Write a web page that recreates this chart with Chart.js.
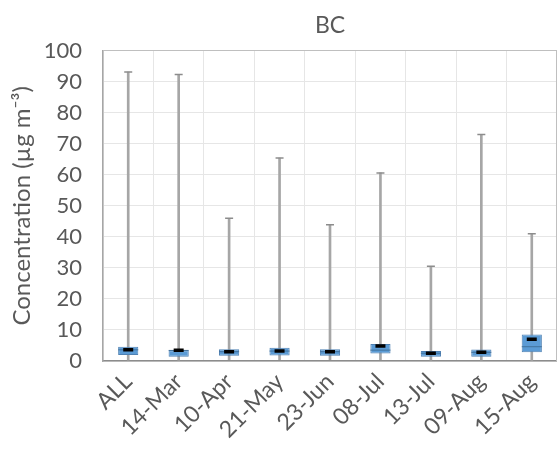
<!DOCTYPE html>
<html>
<head>
<meta charset="utf-8">
<script src="https://cdn.jsdelivr.net/npm/chart.js@4/dist/chart.umd.min.js"></script>
<style>
  html, body { margin: 0; padding: 0; background: #ffffff; }
  #wrap { width: 557px; height: 452px; position: relative; }
</style>
</head>
<body>
<div id="wrap"><canvas id="c" width="557" height="452"></canvas></div>
<script>
const categories = ['ALL', '14-Mar', '10-Apr', '21-May', '23-Jun', '08-Jul', '13-Jul', '09-Aug', '15-Aug'];
const minValues = [0.3, 0.3, 0.4, 0.4, 0.4, 0.4, 0.3, 0.3, 0.2];
const q1Values = [1.9, 1.4, 1.7, 1.8, 1.7, 2.4, 1.4, 1.4, 2.8];
const medianValues = [3.6, 3.4, 3.0, 3.2, 3.0, 3.5, 2.5, 2.8, 4.6];
const q3Values = [4.6, 3.5, 3.8, 4.3, 3.8, 5.5, 3.2, 3.7, 8.5];
const maxValues = [93.1, 92.3, 46.0, 65.4, 43.9, 60.6, 30.5, 73.0, 41.0];
const meanValues = [3.6, 3.45, 3.0, 3.2, 3.0, 4.8, 2.5, 2.8, 7.0];
const yTicks = [0, 10, 20, 30, 40, 50, 60, 70, 80, 90, 100];

const FONT = 'Lato, "Open Sans", sans-serif';
const TXT = '#595959';

const whiskerData = categories.map((c, i) => [minValues[i], maxValues[i]]);
const boxData = categories.map((c, i) => [q1Values[i], q3Values[i]]);

new Chart(document.getElementById('c'), {
  type: 'bar',
  data: {
    labels: categories,
    datasets: [
      {
        type: 'bar', label: 'whisker', data: whiskerData, grouped: false,
        backgroundColor: '#a6a6a6', barThickness: 2, order: 4
      },
      {
        type: 'line', label: 'cap', data: maxValues, showLine: false,
        pointStyle: 'line', pointRadius: 4, pointBorderWidth: 1.5,
        borderColor: '#8c8c8c', backgroundColor: '#8c8c8c', order: 3
      },
      {
        type: 'bar', label: 'box', data: boxData, grouped: false,
        backgroundColor: '#5b9bd5', borderColor: '#4f81b3', borderWidth: 1,
        borderSkipped: false, barPercentage: 0.4, categoryPercentage: 1.0, order: 2
      },
      {
        type: 'line', label: 'median', data: medianValues, showLine: false,
        pointStyle: 'line', pointRadius: 10, pointBorderWidth: 1,
        borderColor: '#41719c', backgroundColor: '#41719c', order: 1
      },
      {
        type: 'line', label: 'mean', data: meanValues, showLine: false,
        pointStyle: 'line', pointRadius: 5, pointBorderWidth: 3.5,
        borderColor: '#000000', backgroundColor: '#000000', order: 0
      }
    ]
  },
  options: {
    responsive: false,
    animation: false,
    layout: { autoPadding: false, padding: { left: 0, right: 0, top: 0, bottom: 0 } },
    plugins: {
      legend: { display: false },
      tooltip: { enabled: false },
      title: {
        display: true, text: 'BC', color: TXT, fullSize: false,
        font: { family: FONT, size: 23, weight: 'normal' },
        padding: { top: 12, bottom: 11 }
      }
    },
    scales: {
      x: {
        offset: true,
        grid: { display: true, offset: true, color: '#e6e6e6', drawTicks: false },
        border: { display: true, color: '#8c8c8c', width: 1.5 },
        ticks: {
          color: TXT, font: { family: FONT, size: 23 },
          minRotation: 45, maxRotation: 45, padding: 7, autoSkip: false
        },
        afterFit: (s) => { s.height = 91; s.paddingRight = 0; s.paddingLeft = 0; }
      },
      y: {
        min: 0, max: 100,
        afterBuildTicks: (s) => { s.ticks = yTicks.map(v => ({ value: v })); },
        grid: {
          color: (ctx) => ctx.tick && ctx.tick.value === 100 ? '#bfbfbf' : '#e6e6e6',
          drawTicks: false
        },
        border: { display: true, color: '#a6a6a6', width: 1.5 },
        ticks: { color: TXT, font: { family: FONT, size: 22 }, padding: 21 },
        title: {
          display: true, text: 'Concentration (µg m⁻³)', color: TXT,
          font: { family: FONT, size: 24 }, padding: { top: 8, bottom: 2 }
        },
        afterFit: (s) => { s.width = 103; }
      }
    }
  },
  plugins: [{
    id: 'rightBorder',
    afterDraw(chart) {
      const a = chart.chartArea, ctx = chart.ctx;
      ctx.save();
      ctx.strokeStyle = '#bfbfbf';
      ctx.lineWidth = 1;
      ctx.beginPath();
      ctx.moveTo(a.right - 0.5, a.top);
      ctx.lineTo(a.right - 0.5, a.bottom);
      ctx.stroke();
      ctx.restore();
    }
  }]
});
</script>
</body>
</html>
